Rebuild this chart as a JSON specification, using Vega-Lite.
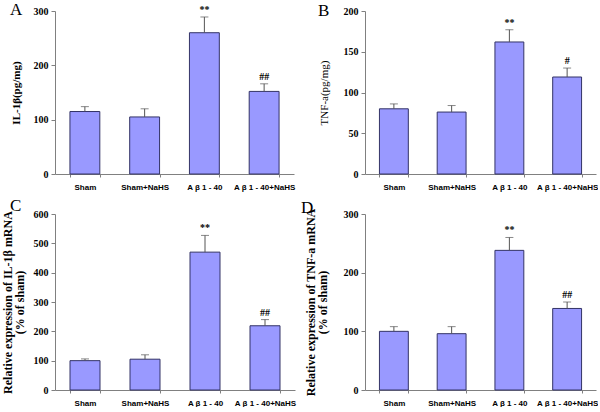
{
  "$schema": "https://vega.github.io/schema/vega-lite/v6.json",
  "autosize": {"type": "pad"},
  "padding": {"left": 1, "top": 0, "right": 0, "bottom": 0},
  "background": "white",
  "bounds": "flush",
  "columns": 2,
  "spacing": {"row": 40, "column": 70},
  "concat": [
    {
      "width": 239, "height": 163,
      "title": {"text": "A", "offset": -14},
      "data": {"values": [
        {"group": "Sham", "mean": 115, "upper": 124, "sig": ""},
        {"group": "Sham+NaHS", "mean": 105, "upper": 120, "sig": ""},
        {"group": "A β 1 - 40", "mean": 260, "upper": 289, "sig": "**"},
        {"group": "A β 1 - 40+NaHS", "mean": 152, "upper": 166, "sig": "##"}
      ]},
      "encoding": {"x": {"field": "group", "type": "nominal", "sort": null, "scale": {"paddingInner": 0.5, "paddingOuter": 0.25}, "axis": {"title": null}}},
      "layer": [
        {"mark": {"type": "bar", "fill": "#9999FF", "stroke": "#333366", "strokeWidth": 1}, "encoding": {"y": {"field": "mean", "type": "quantitative", "scale": {"domain": [0, 300]}, "axis": {"values": [0, 100, 200, 300], "labelOverlap": false, "title": "IL-1β(pg/mg)", "titleFontSize": 11, "titlePadding": 12}}}},
        {"mark": {"type": "rule", "color": "#555555"}, "encoding": {"y": {"field": "mean", "type": "quantitative", "axis": {"values": [0, 100, 200, 300], "labelOverlap": false, "title": "IL-1β(pg/mg)", "titleFontSize": 11, "titlePadding": 12}}, "y2": {"field": "upper"}}},
        {"mark": {"type": "tick", "orient": "horizontal", "size": 8, "thickness": 1, "color": "#555555"}, "encoding": {"y": {"field": "upper", "type": "quantitative", "axis": {"values": [0, 100, 200, 300], "labelOverlap": false, "title": "IL-1β(pg/mg)", "titleFontSize": 11, "titlePadding": 12}}}},
        {"mark": {"type": "text", "dy": -7, "fontWeight": "bold", "fontSize": 10, "font": "Liberation Serif"}, "encoding": {"y": {"field": "upper", "type": "quantitative", "axis": {"values": [0, 100, 200, 300], "labelOverlap": false, "title": "IL-1β(pg/mg)", "titleFontSize": 11, "titlePadding": 12}}, "text": {"field": "sig"}}}
      ]
    },
    {
      "width": 231, "height": 163,
      "title": {"text": "B", "offset": -14},
      "data": {"values": [
        {"group": "Sham", "mean": 80, "upper": 86, "sig": ""},
        {"group": "Sham+NaHS", "mean": 76, "upper": 84, "sig": ""},
        {"group": "A β 1 - 40", "mean": 162, "upper": 177, "sig": "**"},
        {"group": "A β 1 - 40+NaHS", "mean": 119, "upper": 130, "sig": "#"}
      ]},
      "encoding": {"x": {"field": "group", "type": "nominal", "sort": null, "scale": {"paddingInner": 0.5, "paddingOuter": 0.25}, "axis": {"title": null}}},
      "layer": [
        {"mark": {"type": "bar", "fill": "#9999FF", "stroke": "#333366", "strokeWidth": 1}, "encoding": {"y": {"field": "mean", "type": "quantitative", "scale": {"domain": [0, 200]}, "axis": {"values": [0, 50, 100, 150, 200], "labelOverlap": false, "title": "TNF-a(pg/mg)", "titleFontSize": 11, "titleFontWeight": "normal", "titlePadding": 14}}}},
        {"mark": {"type": "rule", "color": "#555555"}, "encoding": {"y": {"field": "mean", "type": "quantitative", "axis": {"values": [0, 50, 100, 150, 200], "labelOverlap": false, "title": "TNF-a(pg/mg)", "titleFontSize": 11, "titleFontWeight": "normal", "titlePadding": 14}}, "y2": {"field": "upper"}}},
        {"mark": {"type": "tick", "orient": "horizontal", "size": 8, "thickness": 1, "color": "#555555"}, "encoding": {"y": {"field": "upper", "type": "quantitative", "axis": {"values": [0, 50, 100, 150, 200], "labelOverlap": false, "title": "TNF-a(pg/mg)", "titleFontSize": 11, "titleFontWeight": "normal", "titlePadding": 14}}}},
        {"mark": {"type": "text", "dy": -7, "fontWeight": "bold", "fontSize": 10, "font": "Liberation Serif"}, "encoding": {"y": {"field": "upper", "type": "quantitative", "axis": {"values": [0, 50, 100, 150, 200], "labelOverlap": false, "title": "TNF-a(pg/mg)", "titleFontSize": 11, "titleFontWeight": "normal", "titlePadding": 14}}, "text": {"field": "sig"}}}
      ]
    },
    {
      "width": 240, "height": 176,
      "title": {"text": "C", "offset": -6, "dx": 9},
      "data": {"values": [
        {"group": "Sham", "mean": 100, "upper": 106, "sig": ""},
        {"group": "Sham+NaHS", "mean": 105, "upper": 120, "sig": ""},
        {"group": "A β 1 - 40", "mean": 470, "upper": 527, "sig": "**"},
        {"group": "A β 1 - 40+NaHS", "mean": 219, "upper": 240, "sig": "##"}
      ]},
      "encoding": {"x": {"field": "group", "type": "nominal", "sort": null, "scale": {"paddingInner": 0.5, "paddingOuter": 0.25}, "axis": {"title": null}}},
      "layer": [
        {"mark": {"type": "bar", "fill": "#9999FF", "stroke": "#333366", "strokeWidth": 1}, "encoding": {"y": {"field": "mean", "type": "quantitative", "scale": {"domain": [0, 600]}, "axis": {"values": [0, 100, 200, 300, 400, 500, 600], "labelOverlap": false, "title": ["Relative expression of IL-1β mRNA", "(% of sham)"], "titleFontSize": 12, "titleLineHeight": 12, "titlePadding": 7}}}},
        {"mark": {"type": "rule", "color": "#555555"}, "encoding": {"y": {"field": "mean", "type": "quantitative", "axis": {"values": [0, 100, 200, 300, 400, 500, 600], "labelOverlap": false, "title": ["Relative expression of IL-1β mRNA", "(% of sham)"], "titleFontSize": 12, "titleLineHeight": 12, "titlePadding": 7}}, "y2": {"field": "upper"}}},
        {"mark": {"type": "tick", "orient": "horizontal", "size": 8, "thickness": 1, "color": "#555555"}, "encoding": {"y": {"field": "upper", "type": "quantitative", "axis": {"values": [0, 100, 200, 300, 400, 500, 600], "labelOverlap": false, "title": ["Relative expression of IL-1β mRNA", "(% of sham)"], "titleFontSize": 12, "titleLineHeight": 12, "titlePadding": 7}}}},
        {"mark": {"type": "text", "dy": -7, "fontWeight": "bold", "fontSize": 10, "font": "Liberation Serif"}, "encoding": {"y": {"field": "upper", "type": "quantitative", "axis": {"values": [0, 100, 200, 300, 400, 500, 600], "labelOverlap": false, "title": ["Relative expression of IL-1β mRNA", "(% of sham)"], "titleFontSize": 12, "titleLineHeight": 12, "titlePadding": 7}}, "text": {"field": "sig"}}}
      ]
    },
    {
      "width": 231, "height": 176,
      "title": {"text": "D", "offset": -9, "dx": -3},
      "data": {"values": [
        {"group": "Sham", "mean": 100, "upper": 108, "sig": ""},
        {"group": "Sham+NaHS", "mean": 96, "upper": 108, "sig": ""},
        {"group": "A β 1 - 40", "mean": 238, "upper": 260, "sig": "**"},
        {"group": "A β 1 - 40+NaHS", "mean": 139, "upper": 150, "sig": "##"}
      ]},
      "encoding": {"x": {"field": "group", "type": "nominal", "sort": null, "scale": {"paddingInner": 0.5, "paddingOuter": 0.25}, "axis": {"title": null}}},
      "layer": [
        {"mark": {"type": "bar", "fill": "#9999FF", "stroke": "#333366", "strokeWidth": 1}, "encoding": {"y": {"field": "mean", "type": "quantitative", "scale": {"domain": [0, 300]}, "axis": {"values": [0, 100, 200, 300], "labelOverlap": false, "title": ["Relative expression of TNF-a mRNA", "(% of sham)"], "titleFontSize": 12, "titleLineHeight": 12, "titlePadding": 14}}}},
        {"mark": {"type": "rule", "color": "#555555"}, "encoding": {"y": {"field": "mean", "type": "quantitative", "axis": {"values": [0, 100, 200, 300], "labelOverlap": false, "title": ["Relative expression of TNF-a mRNA", "(% of sham)"], "titleFontSize": 12, "titleLineHeight": 12, "titlePadding": 14}}, "y2": {"field": "upper"}}},
        {"mark": {"type": "tick", "orient": "horizontal", "size": 8, "thickness": 1, "color": "#555555"}, "encoding": {"y": {"field": "upper", "type": "quantitative", "axis": {"values": [0, 100, 200, 300], "labelOverlap": false, "title": ["Relative expression of TNF-a mRNA", "(% of sham)"], "titleFontSize": 12, "titleLineHeight": 12, "titlePadding": 14}}}},
        {"mark": {"type": "text", "dy": -7, "fontWeight": "bold", "fontSize": 10, "font": "Liberation Serif"}, "encoding": {"y": {"field": "upper", "type": "quantitative", "axis": {"values": [0, 100, 200, 300], "labelOverlap": false, "title": ["Relative expression of TNF-a mRNA", "(% of sham)"], "titleFontSize": 12, "titleLineHeight": 12, "titlePadding": 14}}, "text": {"field": "sig"}}}
      ]
    }
  ],
  "config": {
    "view": {"stroke": null},
    "title": {"font": "Liberation Serif", "fontSize": 17, "fontWeight": "normal", "anchor": "start", "frame": "bounds", "color": "#000000"},
    "axis": {"grid": false, "domainColor": "#808080", "tickColor": "#808080", "labelFont": "Liberation Serif", "labelFontWeight": "bold", "labelFontSize": 10, "labelColor": "#000000", "titleFont": "Liberation Serif", "titleFontWeight": "bold", "titleColor": "#000000"},
    "axisY": {"tickSize": 4, "labelPadding": 3},
    "axisX": {"labelAngle": 0, "labelFontSize": 8, "labelFont": "Liberation Sans", "ticks": true, "tickBand": "extent", "tickSize": 3, "labelPadding": 6}
  }
}
